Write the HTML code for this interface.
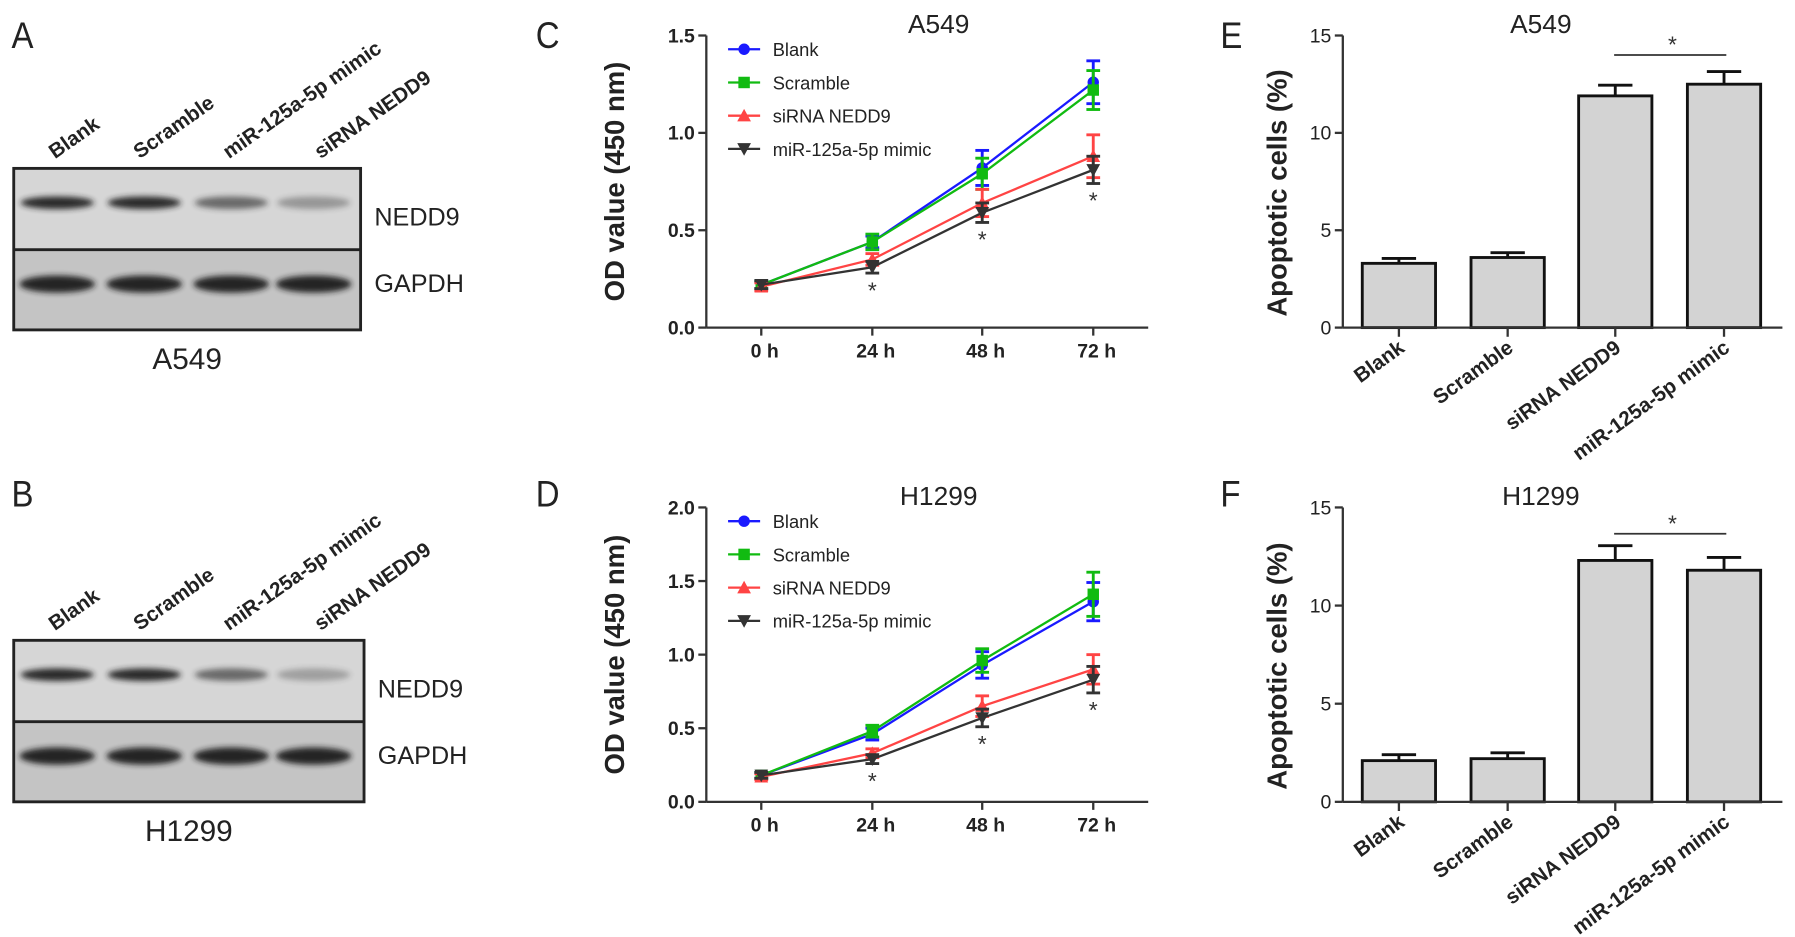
<!DOCTYPE html>
<html><head><meta charset="utf-8"><style>
html,body{margin:0;padding:0;background:#fff;}
svg{display:block;}
text{font-family:"Liberation Sans",Arial,sans-serif;}
</style></head><body>
<svg id="fig" width="1795" height="937" viewBox="0 0 1568 818" preserveAspectRatio="none">
<defs><filter id="blur" x="-20%" y="-100%" width="140%" height="300%"><feGaussianBlur stdDeviation="2.5"/></filter></defs>
<g id="root"></g>
</svg>
<script>
// ===== data =====
var timeLabels=["0 h","24 h","48 h","72 h"];
var seriesNames=["Blank","Scramble","siRNA NEDD9","miR-125a-5p mimic"];
var seriesColors=["#1a1aff","#11bb11","#ff4444","#333333"];
var a549Blank=[0.22,0.44,0.82,1.26];
var a549Scramble=[0.22,0.44,0.79,1.22];
var a549Sirna=[0.21,0.35,0.64,0.88];
var a549Mimic=[0.22,0.31,0.59,0.81];
var a549Err=[[0.02,0.03,0.09,0.11],[0.02,0.04,0.08,0.10],[0.02,0.03,0.07,0.11],[0.02,0.03,0.05,0.07]];
var h1299Blank=[0.18,0.46,0.93,1.36];
var h1299Scramble=[0.18,0.48,0.96,1.41];
var h1299Sirna=[0.17,0.33,0.65,0.90];
var h1299Mimic=[0.18,0.29,0.57,0.83];
var h1299Err=[[0.02,0.04,0.09,0.13],[0.02,0.04,0.08,0.15],[0.02,0.03,0.07,0.10],[0.02,0.03,0.06,0.09]];
var a549Ticks=[0,0.5,1.0,1.5];
var h1299Ticks=[0,0.5,1.0,1.5,2.0];
var barCats=["Blank","Scramble","siRNA NEDD9","miR-125a-5p mimic"];
var apoA549=[3.3,3.6,11.9,12.5];
var apoA549Err=[0.25,0.25,0.55,0.65];
var apoH1299=[2.1,2.2,12.3,11.8];
var apoH1299Err=[0.3,0.3,0.75,0.65];
var apoTicks=[0,5,10,15];

var NS="http://www.w3.org/2000/svg";
var root=document.getElementById('root');
function el(tag,attrs,parent,txt){var e=document.createElementNS(NS,tag);for(var k in attrs)e.setAttribute(k,attrs[k]);if(txt!=null)e.textContent=txt;(parent||root).appendChild(e);return e;}

function panelLetter(t,x,y){var e=el('text',{x:x,y:y,'font-size':32,fill:'#222',transform:'translate('+x+' 0) scale(0.9 1) translate('+(-x)+' 0)'},root,t);

}
panelLetter('A',10,42);panelLetter('B',10,442);panelLetter('C',468,42);panelLetter('D',468,442);panelLetter('E',1066,42);panelLetter('F',1066,442);

// ===== blots =====
function blot(x0,y0,w,labels,intens,cell,id){
  var g=el('g',{});
  
  
  var lx=[48,122,200,280];
  for(var i=0;i<4;i++){var t=el('text',{x:lx[i],y:y0-8,'font-size':18,'font-weight':'bold',fill:'#222',transform:'rotate(-35 '+lx[i]+' '+(y0-8)+')'},g,labels[i]);
    
    }
  el('rect',{x:x0,y:y0,width:w,height:71,fill:'#d6d6d6'},g);
  el('rect',{x:x0,y:y0+71,width:w,height:70,fill:'#c4c4c4'},g);
  var cx=[x0+38,x0+114,x0+190,x0+262];
  for(var i=0;i<4;i++){
    el('ellipse',{cx:cx[i],cy:y0+30,rx:32,ry:5.5,fill:'#222',opacity:intens[i],filter:'url(#blur)'},g);
    el('ellipse',{cx:cx[i],cy:y0+101,rx:33,ry:7.5,fill:'#1a1a1a',opacity:0.95,filter:'url(#blur)'},g);
  }
  el('rect',{x:x0,y:y0,width:w,height:141,fill:'none',stroke:'#222','stroke-width':2.5},g);
  el('line',{x1:x0,y1:y0+71,x2:x0+w,y2:y0+71,stroke:'#222','stroke-width':2.5},g);
  var t1=el('text',{x:x0+w+12,y:y0+50,'font-size':22,fill:'#222'},g,'NEDD9');
  
  var t2=el('text',{x:x0+w+12,y:y0+108,'font-size':22,fill:'#222'},g,'GAPDH');
  
  var t3=el('text',{x:x0+w/2,y:y0+175,'font-size':26,fill:'#222','text-anchor':'middle'},g,cell);
  
}
blot(12,147,303,["Blank","Scramble","miR-125a-5p mimic","siRNA NEDD9"],[0.95,0.95,0.6,0.35],'A549','a549');
blot(12,559,306,["Blank","Scramble","miR-125a-5p mimic","siRNA NEDD9"],[0.95,0.95,0.6,0.3],'H1299','h1299');

// ===== line charts =====
function lineChart(id,top,bottom,ymax,ticks,series,errs,title,stars){
  var g=el('g',{});
  
  
  var ax=617,xs=[665,762,858,955];
  function Y(v){return bottom-(v/ymax)*(bottom-top);}
  el('line',{x1:ax,y1:top,x2:ax,y2:bottom,stroke:'#333','stroke-width':2},g);
  el('line',{x1:ax,y1:bottom,x2:1003,y2:bottom,stroke:'#333','stroke-width':2},g);
  ticks.forEach(function(t){el('line',{x1:ax-7,y1:Y(t),x2:ax,y2:Y(t),stroke:'#333','stroke-width':2},g);
    var tl=el('text',{x:ax-10,y:Y(t)+6,'font-size':17,'font-weight':'bold','text-anchor':'end',fill:'#222'},g,t.toFixed(1));
    });
  xs.forEach(function(x,i){el('line',{x1:x,y1:bottom,x2:x,y2:bottom+7,stroke:'#333','stroke-width':2},g);
    var tl=el('text',{x:x+3,y:bottom+26,'font-size':17,'font-weight':'bold','text-anchor':'middle',fill:'#222'},g,timeLabels[i]);
    });
  var yt=el('text',{x:0,y:0,'font-size':24,'font-weight':'bold','text-anchor':'middle',fill:'#222',transform:'translate(545 '+((top+bottom)/2)+') rotate(-90)'},g,'OD value (450 nm)');
  
  var tt=el('text',{x:820,y:top-2,'font-size':23,'text-anchor':'middle',fill:'#222'},g,title);
  
  series.forEach(function(s,si){
    var c=seriesColors[si];
    var pts=s.map(function(v,i){return xs[i]+','+Y(v);}).join(' ');
    var pl=el('polyline',{points:pts,fill:'none',stroke:c,'stroke-width':2},g);
    
    
    s.forEach(function(v,i){
      var e=errs[si][i],x=xs[i];
      el('line',{x1:x,y1:Y(v+e),x2:x,y2:Y(v-e),stroke:c,'stroke-width':2.5},g);
      el('line',{x1:x-6,y1:Y(v+e),x2:x+6,y2:Y(v+e),stroke:c,'stroke-width':2.5},g);
      el('line',{x1:x-6,y1:Y(v-e),x2:x+6,y2:Y(v-e),stroke:c,'stroke-width':2.5},g);
      marker(g,si,x,Y(v),c);
    });
  });
  stars.forEach(function(i){var v=series[3][i]-errs[3][i];
    var st=el('text',{x:xs[i],y:Y(v)+22,'font-size':20,'text-anchor':'middle',fill:'#333'},g,'*');
    });
  var ly=top+12;
  seriesNames.forEach(function(n,si){var yy=ly+si*29,c=seriesColors[si];
    var lg=el('g',{},g);
    
    
    el('line',{x1:636,y1:yy,x2:664,y2:yy,stroke:c,'stroke-width':2},lg);
    marker(lg,si,650,yy,c);
    el('text',{x:675,y:yy+6,'font-size':16,fill:'#222'},lg,n);
  });
}
function marker(g,si,x,y,c){
  if(si==0)el('circle',{cx:x,cy:y,r:5,fill:c},g);
  else if(si==1)el('rect',{x:x-5,y:y-5,width:10,height:10,fill:c},g);
  else if(si==2)el('polygon',{points:(x-6)+','+(y+5)+' '+(x+6)+','+(y+5)+' '+x+','+(y-6),fill:c},g);
  else el('polygon',{points:(x-6)+','+(y-5)+' '+(x+6)+','+(y-5)+' '+x+','+(y+6),fill:c},g);
}
lineChart('a549',31,286,1.5,a549Ticks,[a549Blank,a549Scramble,a549Sirna,a549Mimic],a549Err,'A549',[1,2,3]);
lineChart('h1299',443,700,2.0,h1299Ticks,[h1299Blank,h1299Scramble,h1299Sirna,h1299Mimic],h1299Err,'H1299',[1,2,3]);

// ===== bar charts =====
function barChart(id,top,bottom,vals,errs,title,sigY){
  var g=el('g',{});
  
  
  var ax=1173,xs=[1222,1317,1411,1506],ymax=15,bw=64;
  function Y(v){return bottom-(v/ymax)*(bottom-top);}
  vals.forEach(function(v,i){
    var b=el('rect',{x:xs[i]-bw/2,y:Y(v),width:bw,height:bottom-Y(v),fill:'#d3d3d3',stroke:'#111','stroke-width':2.5},g);
    
    
    var e=errs[i];
    el('line',{x1:xs[i],y1:Y(v+e),x2:xs[i],y2:Y(v),stroke:'#111','stroke-width':2.5},g);
    el('line',{x1:xs[i]-15,y1:Y(v+e),x2:xs[i]+15,y2:Y(v+e),stroke:'#111','stroke-width':2.5},g);
  });
  el('line',{x1:ax,y1:top,x2:ax,y2:bottom,stroke:'#333','stroke-width':2},g);
  el('line',{x1:ax,y1:bottom,x2:1557,y2:bottom,stroke:'#333','stroke-width':2},g);
  apoTicks.forEach(function(t){el('line',{x1:ax-7,y1:Y(t),x2:ax,y2:Y(t),stroke:'#333','stroke-width':2},g);
    var tl=el('text',{x:ax-10,y:Y(t)+6,'font-size':17,'text-anchor':'end',fill:'#222'},g,String(t));
    });
  xs.forEach(function(x,i){el('line',{x1:x,y1:bottom,x2:x,y2:bottom+8,stroke:'#333','stroke-width':2},g);
    var tl=el('text',{x:0,y:0,'font-size':18,'font-weight':'bold','text-anchor':'end',fill:'#222',transform:'translate('+(x+6)+' '+(bottom+20)+') rotate(-36)'},g,barCats[i]);
    });
  var yt=el('text',{x:0,y:0,'font-size':24,'font-weight':'bold','text-anchor':'middle',fill:'#222',transform:'translate(1124 '+((top+bottom)/2+10)+') rotate(-90)'},g,'Apoptotic cells (%)');
  
  var tt=el('text',{x:1346,y:top-2,'font-size':23,'text-anchor':'middle',fill:'#222'},g,title);
  
  var sl=el('line',{x1:1410,y1:sigY,x2:1508,y2:sigY,stroke:'#333','stroke-width':1.5},g);
  
  var st=el('text',{x:1461,y:sigY-2,'font-size':20,'text-anchor':'middle',fill:'#333'},g,'*');
  
}
barChart('a549',31,286,apoA549,apoA549Err,'A549',48);
barChart('h1299',443,700,apoH1299,apoH1299Err,'H1299',466);
</script>
</body></html>
